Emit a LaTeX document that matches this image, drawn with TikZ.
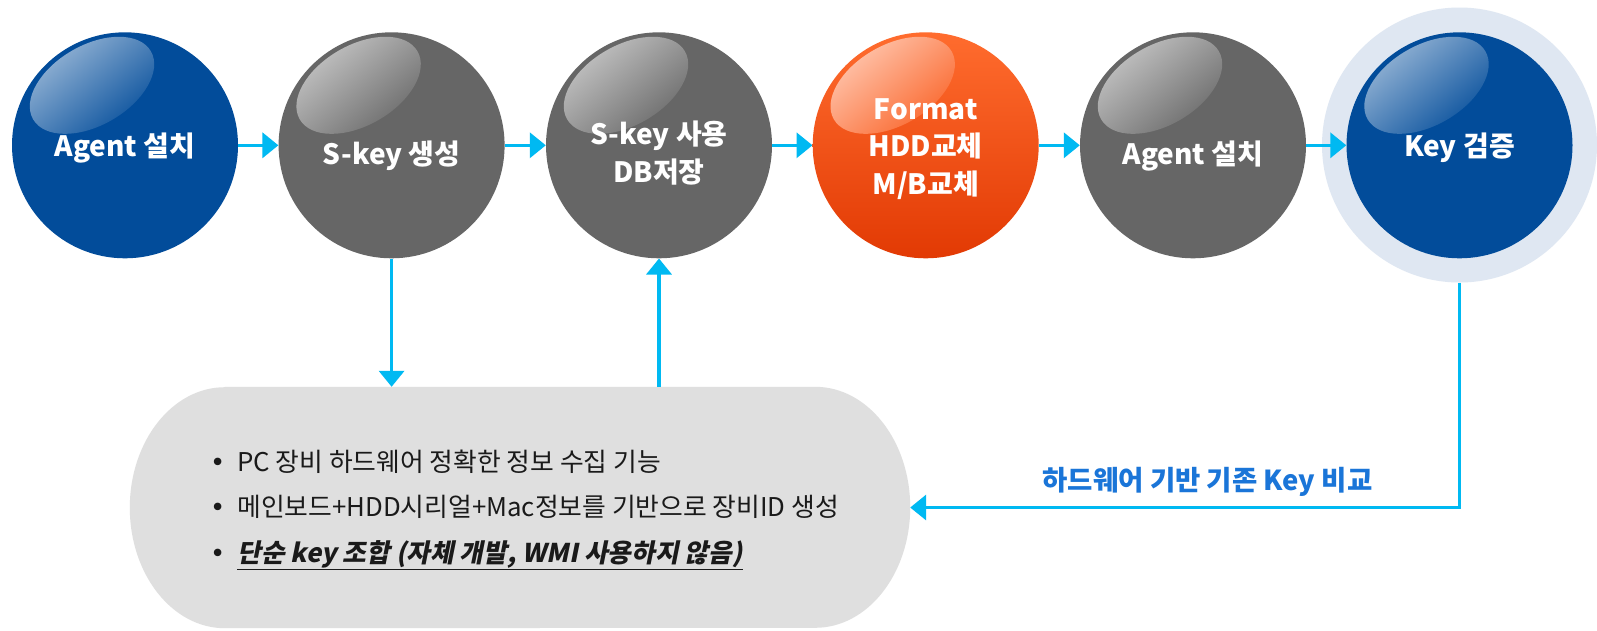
\documentclass[tikz,border=0pt]{standalone}
\usepackage{fontspec}
\setmainfont{Noto Sans CJK KR}
\newfontfamily\krc{Noto Sans CJK KR}
\newfontfamily\krsl{Noto Sans CJK KR}[FakeSlant=0.2]
\newfontfamily\dv{DejaVu Sans}
\usetikzlibrary{arrows.meta,calc}
\definecolor{cblue}{RGB}{2,76,154}
\definecolor{cgray}{RGB}{102,102,102}
\definecolor{corangeT}{RGB}{255,108,46}
\definecolor{corangeM}{RGB}{250,98,38}
\definecolor{corangeB}{RGB}{226,58,4}
\definecolor{chalo}{RGB}{223,231,242}
\definecolor{carrow}{RGB}{0,185,242}
\definecolor{cpill}{RGB}{223,223,223}
\definecolor{clabel}{RGB}{26,117,216}
\definecolor{ctext}{RGB}{26,26,26}
\tikzset{
  bubble/.style={circle, minimum size=226pt, inner sep=0pt, draw=none},
  title/.style={text=white, font=\fontsize{28}{37.3}\selectfont\bfseries, align=center, anchor=base, inner sep=0pt},
  flow/.style={draw=carrow, line width=3.5pt, -{Triangle[length=16pt,width=25pt]}},
  bline/.style={text=ctext, anchor=base west, inner sep=0pt, font=\krc\fontsize{25.8}{30}\selectfont},
  lbl/.style={text=clabel, anchor=base, inner sep=0pt, font=\krc\fontsize{27.5}{30}\selectfont\bfseries},
}
\newcommand{\glossy}[3]{%
  \shade[top color=#2, bottom color=#3, shading angle=40] ($(#1)+(-33,-60)$) circle[x radius=68, y radius=40, rotate=30];
}
\begin{document}
\begin{tikzpicture}[x=1pt,y=-1pt]
\useasboundingbox[fill=white] (0,0) rectangle (1597,630);

% pill
\node[minimum width=780pt, minimum height=241pt, inner sep=0pt] (pill) at (520,507.5) {};
\fill[cpill] ($(pill.north west)+(95,0)$) -- ($(pill.north east)+(-95,0)$)
  arc[start angle=-90, end angle=90, x radius=95, y radius=120.5]
  -- ($(pill.south west)+(95,0)$)
  arc[start angle=90, end angle=270, x radius=95, y radius=120.5] -- cycle;

% halo
\node[circle, minimum size=275pt, inner sep=0pt, fill=chalo] (halo) at (1459.5,145) {};

% circles
\node[bubble, fill=cblue] (c1) at (125,145.3) {};
\glossy{c1}{white!62!cblue}{cblue}
\node[title] (t1) at (125,156) {Agent 설치};

\node[bubble, fill=cgray] (c2) at (391.6,145.3) {};
\glossy{c2}{white!65!cgray}{cgray}
\node[title] (t2) at (391.6,164) {S-key 생성};

\node[bubble, fill=cgray] (c3) at (659,145.3) {};
\glossy{c3}{white!65!cgray}{cgray}
\node[title] (t3) at (659,182) {S-key 사용\\DB저장};

\node[bubble, top color=corangeT, bottom color=corangeB] (c4) at (925.7,145.3) {};
\glossy{c4}{white!65!corangeT}{corangeM}
\node[title] (t4) at (925.7,194) {Format\\HDD교체\\M/B교체};

\node[bubble, fill=cgray] (c5) at (1193,145.3) {};
\glossy{c5}{white!65!cgray}{cgray}
\node[title] (t5) at (1193,164) {Agent 설치};

\node[bubble, fill=cblue] (c6) at (1459.5,145.3) {};
\glossy{c6}{white!62!cblue}{cblue}
\node[title] (t6) at (1459.5,156) {Key 검증};

% connectors
\draw[flow] (c1.east) -- (c2.west);
\draw[flow] (c2.east) -- (c3.west);
\draw[flow] (c3.east) -- (c4.west);
\draw[flow] (c4.east) -- (c5.west);
\draw[flow] (c5.east) -- (c6.west);
\draw[flow] (c2.south) -- (c2.south |- pill.north);
\draw[flow] (c3.south |- pill.north) -- (c3.south);
\draw[flow] (halo.south) |- (pill.east);

% label
\node[lbl] (fb) at (1207.5,490) {하드웨어 기반 기존 Key 비교};

% bullet lines
\node[bline] (b1) at (210,471) {{\dv •}\hspace{12pt}PC 장비 하드웨어 정확한 정보 수집 기능};
\node[bline] (b2) at (210,516.5) {{\dv •}\hspace{12pt}메인보드+HDD시리얼+Mac정보를 기반으로 장비ID 생성};
\node[bline, font=\krsl\fontsize{25.8}{30}\selectfont\bfseries] (b3) at (210,562) {{\dv\upshape\mdseries •}\hspace{12pt}\underline{단순 key 조합 (자체 개발, WMI 사용하지 않음)}};
\end{tikzpicture}
\end{document}
